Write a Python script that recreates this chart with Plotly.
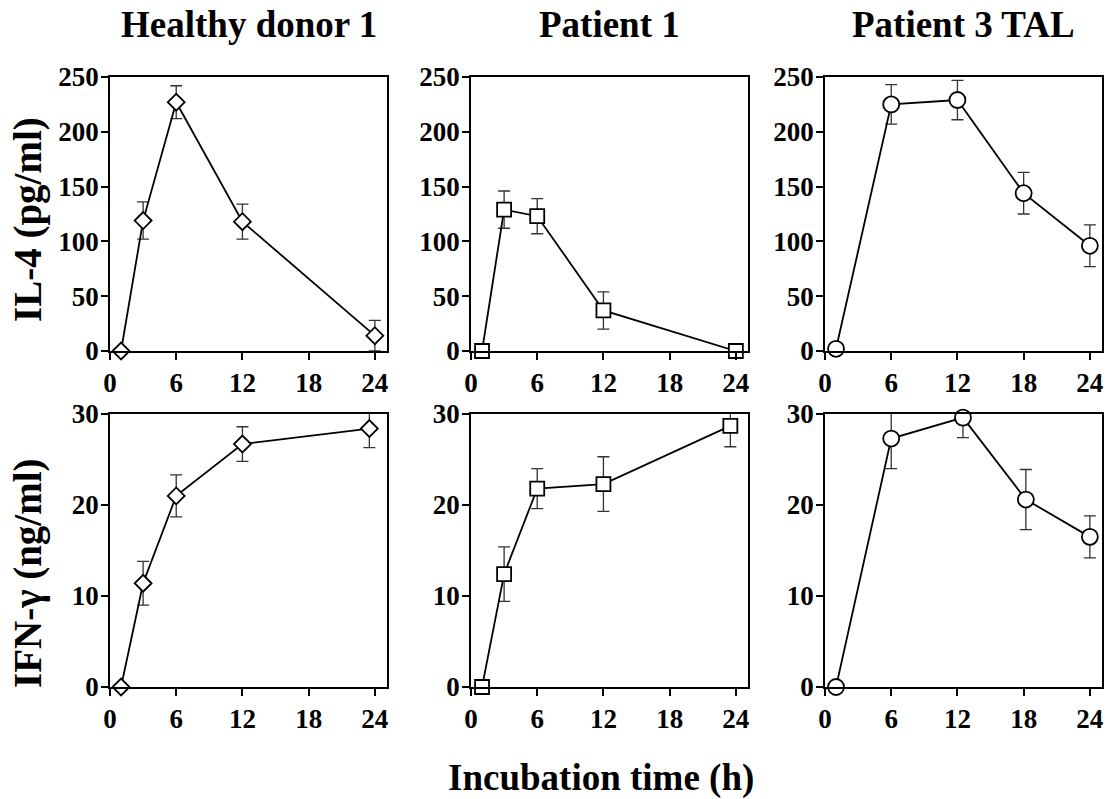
import plotly.graph_objects as go

# ---- data ----
panel_titles = ["Healthy donor 1", "Patient 1", "Patient 3 TAL"]
row_titles = ["IL-4 (pg/ml)", "IFN-γ (ng/ml)"]
x_title = "Incubation time (h)"
x_ticks = [0, 6, 12, 18, 24]
il4_ticks = [0, 50, 100, 150, 200, 250]
ifn_ticks = [0, 10, 20, 30]

# Healthy donor 1
hd_il4_t = [1, 3, 6, 12, 24]
hd_il4 = [0, 119, 227, 118, 14]
hd_il4_err = [0, 17, 15, 16, 14]
hd_ifn_t = [1, 3, 6, 12, 23.5]
hd_ifn = [0, 11.4, 21.0, 26.7, 28.4]
hd_ifn_err = [0, 2.4, 2.3, 1.9, 2.1]

# Patient 1
p1_il4_t = [1, 3, 6, 12, 24]
p1_il4 = [0, 129, 123, 37, 0]
p1_il4_err = [0, 17, 16, 17, 0]
p1_ifn_t = [1, 3, 6, 12, 23.5]
p1_ifn = [0, 12.4, 21.8, 22.3, 28.7]
p1_ifn_err = [0, 3.0, 2.2, 3.0, 2.3]

# Patient 3 TAL
p3_il4_t = [1, 6, 12, 18, 24]
p3_il4 = [2, 225, 229, 144, 96]
p3_il4_err = [0, 18, 18, 19, 19]
p3_ifn_t = [1, 6, 12.5, 18.2, 24]
p3_ifn = [0, 27.3, 29.6, 20.6, 16.5]
p3_ifn_err = [0, 3.3, 2.2, 3.3, 2.3]

W, H = 1111, 799
FONT = "Liberation Serif"

col_px = [(110, 387), (471, 748), (825, 1102)]
row_px = [(77, 351), (414, 687)]

panels = [
    (0, 0, hd_il4_t, hd_il4, hd_il4_err, "diamond", 13),
    (0, 1, p1_il4_t, p1_il4, p1_il4_err, "square", 14),
    (0, 2, p3_il4_t, p3_il4, p3_il4_err, "circle", 16),
    (1, 0, hd_ifn_t, hd_ifn, hd_ifn_err, "diamond", 13),
    (1, 1, p1_ifn_t, p1_ifn, p1_ifn_err, "square", 14),
    (1, 2, p3_ifn_t, p3_ifn, p3_ifn_err, "circle", 16),
]

fig = go.Figure()
layout = {}
for i, (r, c, xs, ys, es, sym, sz) in enumerate(panels):
    n = i + 1
    xa = "x" if n == 1 else f"x{n}"
    ya = "y" if n == 1 else f"y{n}"
    xkey = "xaxis" if n == 1 else f"xaxis{n}"
    ykey = "yaxis" if n == 1 else f"yaxis{n}"
    fig.add_trace(go.Scatter(
        x=xs, y=ys, xaxis=xa, yaxis=ya, mode="lines+markers",
        line=dict(color="black", width=1.8),
        marker=dict(symbol=sym, size=sz, color="white",
                    line=dict(color="black", width=1.8)),
        error_y=dict(type="data", array=es, visible=True,
                     color="#333333", thickness=1.3, width=6),
        cliponaxis=False, showlegend=False,
    ))
    x0, x1 = col_px[c]
    y0, y1 = row_px[r]
    yticks = il4_ticks if r == 0 else ifn_ticks
    yr = [0, 250] if r == 0 else [0, 30]
    common = dict(
        ticks="outside", ticklen=7, tickwidth=1.5, tickcolor="black",
        showline=True, linecolor="black", linewidth=1.5, mirror=True,
        showgrid=False, zeroline=False, automargin=False,
        tickfont=dict(family=FONT, size=27, color="black", weight="bold"),
    )
    layout[xkey] = dict(domain=[x0 / W, x1 / W], range=[0, 25.1], anchor=ya,
                        tickvals=x_ticks, **common)
    layout[ykey] = dict(domain=[1 - y1 / H, 1 - y0 / H], range=yr, anchor=xa,
                        tickvals=yticks, ticklabelstandoff=-3, **common)

annotations = []
for c, t in enumerate(panel_titles):
    cx = (col_px[c][0] + col_px[c][1]) / 2
    annotations.append(dict(
        text=t, x=cx / W, y=1 - 25 / H, xref="paper", yref="paper",
        xanchor="center", yanchor="middle", showarrow=False,
        font=dict(family=FONT, size=37, color="black", weight="bold")))
for r, (t, cy) in enumerate(zip(row_titles, [220, 574])):
    annotations.append(dict(
        text=t, x=28 / W, y=1 - cy / H, xref="paper", yref="paper",
        xanchor="center", yanchor="middle", textangle=-90, showarrow=False,
        font=dict(family=FONT, size=39, color="black", weight="bold")))
annotations.append(dict(
    text=x_title, x=601 / W, y=1 - 778 / H, xref="paper", yref="paper",
    xanchor="center", yanchor="middle", showarrow=False,
    font=dict(family=FONT, size=37, color="black", weight="bold")))

fig.update_layout(
    template="none",
    width=W, height=H, margin=dict(l=0, r=0, t=0, b=0, autoexpand=False),
    paper_bgcolor="white", plot_bgcolor="white",
    annotations=annotations, **layout,
)
fig.write_html(
    "out.html",
    config={"displayModeBar": False},
    post_script="document.body.style.margin='0';document.body.style.overflow='hidden';",
)
